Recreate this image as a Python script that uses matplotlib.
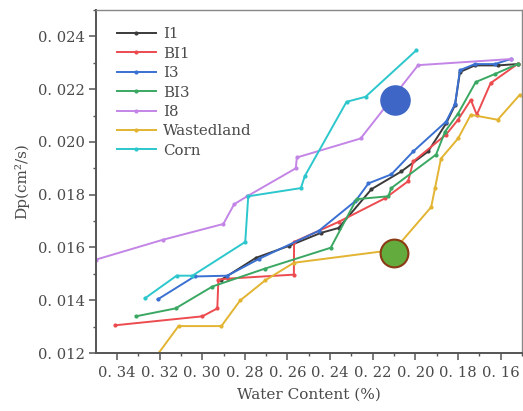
import matplotlib
matplotlib.use("Agg")
import matplotlib.pyplot as plt
import numpy as np

plt.rcParams['font.family'] = 'DejaVu Serif'

# contenido de agua (%) y coeficiente de difusion Dp (cm2/s) por parcela
i1_x = [0.2910, 0.2747, 0.2593, 0.2444, 0.2360, 0.2206, 0.2066, 0.1940, 0.1856, 0.1814, 0.1791, 0.1721, 0.1614, 0.1521]
i1_y = [0.01478, 0.01561, 0.01606, 0.01655, 0.01674, 0.01821, 0.01888, 0.01964, 0.02070, 0.02140, 0.02265, 0.02290, 0.02290, 0.02295]

bi1_x = [0.3409, 0.2999, 0.2929, 0.2924, 0.2878, 0.2570, 0.2569, 0.2360, 0.2141, 0.2034, 0.2010,
         0.1856, 0.1800, 0.1740, 0.1712, 0.1647, 0.1521]
bi1_y = [0.01305, 0.01339, 0.01369, 0.01478, 0.01482, 0.01497, 0.01621, 0.01697, 0.01787, 0.01851, 0.01926,
         0.02028, 0.02084, 0.02159, 0.02103, 0.02223, 0.02295]

i3_x = [0.3209, 0.3036, 0.2882, 0.2733, 0.2453, 0.2281, 0.2220, 0.2113, 0.2010, 0.1856, 0.1814,
        0.1791, 0.1721, 0.1628, 0.1553]
i3_y = [0.01403, 0.01490, 0.01493, 0.01557, 0.01663, 0.01776, 0.01843, 0.01877, 0.01964, 0.02077, 0.02144,
        0.02272, 0.02295, 0.02295, 0.02314]

bi3_x = [0.3311, 0.3125, 0.2952, 0.2705, 0.2397, 0.2276, 0.2127, 0.2113, 0.1903, 0.1861, 0.1800,
         0.1717, 0.1628, 0.1521]
bi3_y = [0.01339, 0.01369, 0.01452, 0.01520, 0.01599, 0.01783, 0.01794, 0.01825, 0.01952, 0.02039, 0.02107,
         0.02227, 0.02257, 0.02295]

i8_x = [0.3498, 0.3185, 0.2901, 0.2850, 0.2789, 0.2561, 0.2556, 0.2257, 0.1987, 0.1553]
i8_y = [0.01554, 0.01629, 0.01689, 0.01764, 0.01794, 0.01900, 0.01941, 0.02013, 0.02291, 0.02314]

waste_x = [0.3204, 0.3111, 0.2910, 0.2822, 0.2705, 0.2570, 0.2099, 0.1926, 0.1908, 0.1880, 0.1800,
           0.1740, 0.1614, 0.1511]
waste_y = [0.01200, 0.01302, 0.01302, 0.01399, 0.01475, 0.01542, 0.01591, 0.01753, 0.01825, 0.01937, 0.02013,
           0.02103, 0.02084, 0.02178]

corn_x = [0.3269, 0.3120, 0.3046, 0.2798, 0.2784, 0.2537, 0.2519, 0.2323, 0.2234, 0.1996]
corn_y = [0.01407, 0.01493, 0.01493, 0.01621, 0.01794, 0.01825, 0.01870, 0.02152, 0.02171, 0.02347]

# puntos destacados
punto_azul = (0.2094, 0.02159)
punto_verde = (0.2099, 0.01580)

x_ticks = [0.34, 0.32, 0.30, 0.28, 0.26, 0.24, 0.22, 0.20, 0.18, 0.16]
x_labels = ["0. 34", "0. 32", "0. 30", "0. 28", "0. 26", "0. 24", "0. 22", "0. 20", "0. 18", "0. 16"]
y_ticks = [0.012, 0.014, 0.016, 0.018, 0.020, 0.022, 0.024]
y_labels = ["0. 012", "0. 014", "0. 016", "0. 018", "0. 020", "0. 022", "0. 024"]

series = [
    ("I1", i1_x, i1_y, "#3a3a3a"),
    ("BI1", bi1_x, bi1_y, "#ec4b4f"),
    ("I3", i3_x, i3_y, "#3a70d2"),
    ("BI3", bi3_x, bi3_y, "#3aa862"),
    ("I8", i8_x, i8_y, "#c385e6"),
    ("Wastedland", waste_x, waste_y, "#e2b431"),
    ("Corn", corn_x, corn_y, "#2cc7cc"),
]

fig = plt.figure(figsize=(5.23, 4.11), dpi=100)
ax = fig.add_axes([96 / 523, 58 / 411, 426 / 523, 343 / 411])

for nombre, xs, ys, color in series:
    ax.plot(xs, ys, color=color, lw=1.4, marker='o', ms=2, label=nombre)

ax.plot(*punto_azul, marker='o', ms=21, color="#3d66c6", mec="#3d66c6", zorder=5)
ax.plot(*punto_verde, marker='o', ms=20, color="#63ab3c", mec="#8a3a14", mew=1.5, zorder=5)

ax.set_xlim(0.3498, 0.1511)
ax.set_ylim(0.012, 0.0249)
ax.set_xticks(x_ticks)
ax.set_xticklabels(x_labels)
ax.set_yticks(y_ticks)
ax.set_yticklabels(y_labels)
ax.set_xticks(np.arange(0.15, 0.35, 0.01), minor=True)
ax.set_yticks(np.arange(0.013, 0.025, 0.002), minor=True)

ax.tick_params(which='major', direction='out', length=5, width=1.1, color="#555555",
               labelsize=10.6, labelcolor="#4a4a4a", pad=3)
ax.tick_params(which='minor', direction='out', length=2.5, width=1.0, color="#555555")
ax.tick_params(axis='x', pad=4)

for lado in ['left', 'bottom']:
    ax.spines[lado].set_color("#555555")
    ax.spines[lado].set_linewidth(1.4)
for lado in ['top', 'right']:
    ax.spines[lado].set_color("#888888")
    ax.spines[lado].set_linewidth(1.0)

ax.set_xlabel("Water Content (%)", fontsize=11, color="#4a4a4a", labelpad=6)
ax.set_ylabel("Dp(cm²/s)", fontsize=11, color="#4a4a4a", labelpad=6)

ax.legend(loc='upper left', bbox_to_anchor=(0.035, 0.967), frameon=False, fontsize=10.8,
          handlelength=2.6, handletextpad=0.5, labelspacing=0.36, borderaxespad=0,
          labelcolor="#4a4a4a")

fig.savefig("out.png", dpi=100)
